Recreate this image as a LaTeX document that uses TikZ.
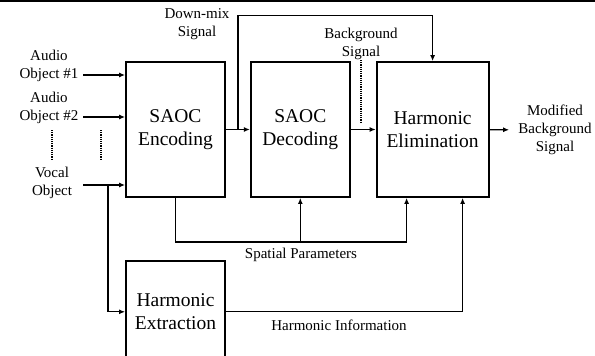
\documentclass[tikz,border=0pt]{standalone}
\usepackage{fontspec}
\setmainfont{Liberation Serif}
\usetikzlibrary{positioning,arrows.meta,calc}
\tikzset{
  flow/.style={-{Latex[length=6pt,width=5pt]},line width=1.2pt},
  dotline/.style={line width=1.2pt,densely dotted},
  block/.style={draw,line width=1.8pt,minimum width=99pt,minimum height=135pt,
    inner sep=0pt,align=center,font=\fontsize{19.5}{23.5}\selectfont},
  lbl/.style={align=center,inner sep=0pt,font=\fontsize{15}{18}\selectfont}
}

\begin{document}
\begin{tikzpicture}[x=1pt,y=-1pt]
  \clip (0,0) rectangle (595,356);
  \draw[line width=1.5pt] (0,1) -- (595,1);

  \node[block] (enc) at (175.5,129.5) {SAOC\\Encoding};
  \node[block,right=24pt of enc] (dec) {SAOC\\Decoding};
  \node[block,right=25pt of dec,minimum width=112pt] (elim) {Harmonic\\Elimination};
  \node[block,below=62pt of enc,minimum height=102pt] (ext) {Harmonic\\Extraction};

  % inputs
  \node[lbl] (obj1) at (49,66) {Audio\\Object \#1};
  \node[lbl] (obj2) at (49,108) {Audio\\Object \#2};
  \node[lbl] (vocal) at (52,183) {Vocal\\Object};
  \coordinate (in1) at (83,75);
  \coordinate (in2) at (83,117);
  \coordinate (in3) at (83,185);
  \draw[flow] (in1) -- (enc.west |- in1);
  \draw[flow] (in2) -- (enc.west |- in2);
  \draw[flow] (in3) -- (enc.west |- in3);
  \draw[flow] ([xshift=25pt]in3) |- (ext.west);
  \draw[dotline] (52,130) -- (52,160);
  \draw[dotline] (101,130) -- (101,160);

  % down-mix and background
  \draw[flow] (enc) -- (dec);
  \draw[flow] ([xshift=12pt]enc.east) -- ++(0,-114) -| (elim.north);
  \node[lbl] (dmix) at (197,24) {Down-mix\\Signal};
  \node[lbl] (bg) at (361,44) {Background\\Signal};
  \draw[dotline] (bg.south) -- ++(0,62);
  \draw[flow] (dec) -- (elim);
  \node[lbl] (out) at (555,130) {Modified\\Background\\Signal};
  \draw[flow,shorten >=9pt] (elim) -- (out);

  % side information
  \draw[flow] (enc.south) -- ++(0,44) coordinate (sp) -| ([xshift=-26pt]elim.south);
  \draw[flow] (sp -| dec.south) -- (dec.south);
  \node[lbl] (spatial) at (301,255) {Spatial Parameters};
  \draw[flow] (ext.east) -| ([xshift=30pt]elim.south);
  \node[lbl] (hinfo) at (339,325) {Harmonic Information};
\end{tikzpicture}
\end{document}
